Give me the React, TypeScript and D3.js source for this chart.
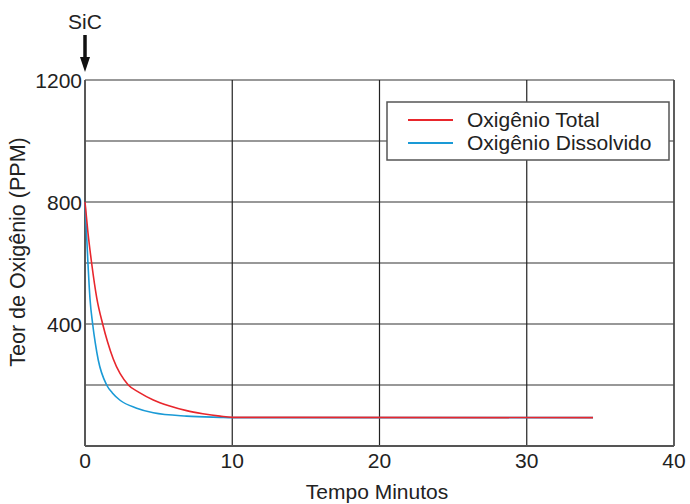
import * as d3 from 'd3';

// values
const totalTime = [0, 0.2, 0.45, 0.8, 1.2, 1.54, 1.92, 2.94, 3.67, 4.64, 5.7, 6.9, 8, 9.17, 10, 34.5];
const totalOxygen = [800, 700, 600, 485, 400, 340, 285, 200, 176, 151, 132, 116, 106, 98, 94, 93];

const dissolvedTime = [0, 0.1, 0.2, 0.34, 0.52, 0.7, 0.9, 1.47, 1.86, 2.38, 3.51, 4.64, 6.9, 9.17, 10, 34.5];
const dissolvedOxygen = [800, 700, 600, 482, 400, 337, 282, 200, 174, 150, 124, 109, 98, 94, 93, 93];

const xTicks = [0, 10, 20, 30, 40];
const yGrid = [200, 400, 600, 800, 1000, 1200];
const yLabels = [400, 800, 1200];

const seriesNames = ['Oxigênio Total', 'Oxigênio Dissolvido'];
const seriesColors = ['#e8262c', '#1a9ad6'];

const W = 690;
const H = 504;
const font = 'Liberation Sans, Arial, sans-serif';

export default function App() {
  const x = d3.scaleLinear().domain([0, 40]).range([85, 674]);
  const y = d3.scaleLinear().domain([0, 1200]).range([446, 80]);

  const line = d3.line<[number, number]>()
    .x(d => x(d[0]))
    .y(d => y(d[1]))
    .curve(d3.curveMonotoneX);

  const total = totalTime.map((t, i) => [t, totalOxygen[i]] as [number, number]);
  const dissolved = dissolvedTime.map((t, i) => [t, dissolvedOxygen[i]] as [number, number]);

  return (
    <svg width={W} height={H} style={{ position: 'absolute', left: 0, top: 0, background: '#fff' }} fontFamily={font}>
      {/* grid */}
      {yGrid.map(v => (
        <line key={'gy' + v} x1={x(0)} x2={x(40)} y1={y(v)} y2={y(v)} stroke="#333" strokeWidth={1.2} />
      ))}
      {xTicks.map(v => (
        <line key={'gx' + v} x1={x(v)} x2={x(v)} y1={y(0)} y2={y(1200)} stroke="#222" strokeWidth={1.2} />
      ))}
      {/* axes */}
      <line x1={x(0)} x2={x(0)} y1={y(0)} y2={y(1200)} stroke="#555" strokeWidth={1.8} />
      <line x1={x(0)} x2={x(40)} y1={y(0)} y2={y(0)} stroke="#555" strokeWidth={1.8} />
      <line x1={x(40)} x2={x(40)} y1={y(0)} y2={y(1200)} stroke="#555" strokeWidth={1.5} />

      {/* curves */}
      <path d={line(dissolved) || ''} fill="none" stroke={seriesColors[1]} strokeWidth={1.6} />
      <path d={line(total) || ''} fill="none" stroke={seriesColors[0]} strokeWidth={1.6} />

      {/* tick labels */}
      {xTicks.map(v => (
        <text key={'tx' + v} x={x(v)} y={468} fontSize={21} textAnchor="middle" fill="#222">{v}</text>
      ))}
      {yLabels.map(v => (
        <text key={'ty' + v} x={82} y={y(v) + 7.5} fontSize={21} textAnchor="end" fill="#222">{v}</text>
      ))}

      {/* axis titles */}
      <text x={377} y={499} fontSize={21} textAnchor="middle" fill="#222">Tempo Minutos</text>
      <text transform={`translate(25,252) rotate(-90)`} fontSize={21.5} textAnchor="middle" fill="#222">
        Teor de Oxigênio (PPM)
      </text>

      {/* SiC marker */}
      <text x={x(0)} y={29} fontSize={21} textAnchor="middle" fill="#222">SiC</text>
      <line x1={x(0)} x2={x(0)} y1={35} y2={60} stroke="#111" strokeWidth={3.5} />
      <path d={`M${x(0) - 5},57 L${x(0) + 5},57 L${x(0)},72 Z`} fill="#111" />

      {/* legend */}
      <rect x={387} y={102} width={282} height={58} fill="#fff" stroke="#555" strokeWidth={1.5} />
      {seriesNames.map((name, i) => (
        <g key={name}>
          <line x1={408} x2={453} y1={120 + i * 23} y2={120 + i * 23} stroke={seriesColors[i]} strokeWidth={2} />
          <text x={467} y={127 + i * 23} fontSize={21} fill="#222">{name}</text>
        </g>
      ))}
    </svg>
  );
}
